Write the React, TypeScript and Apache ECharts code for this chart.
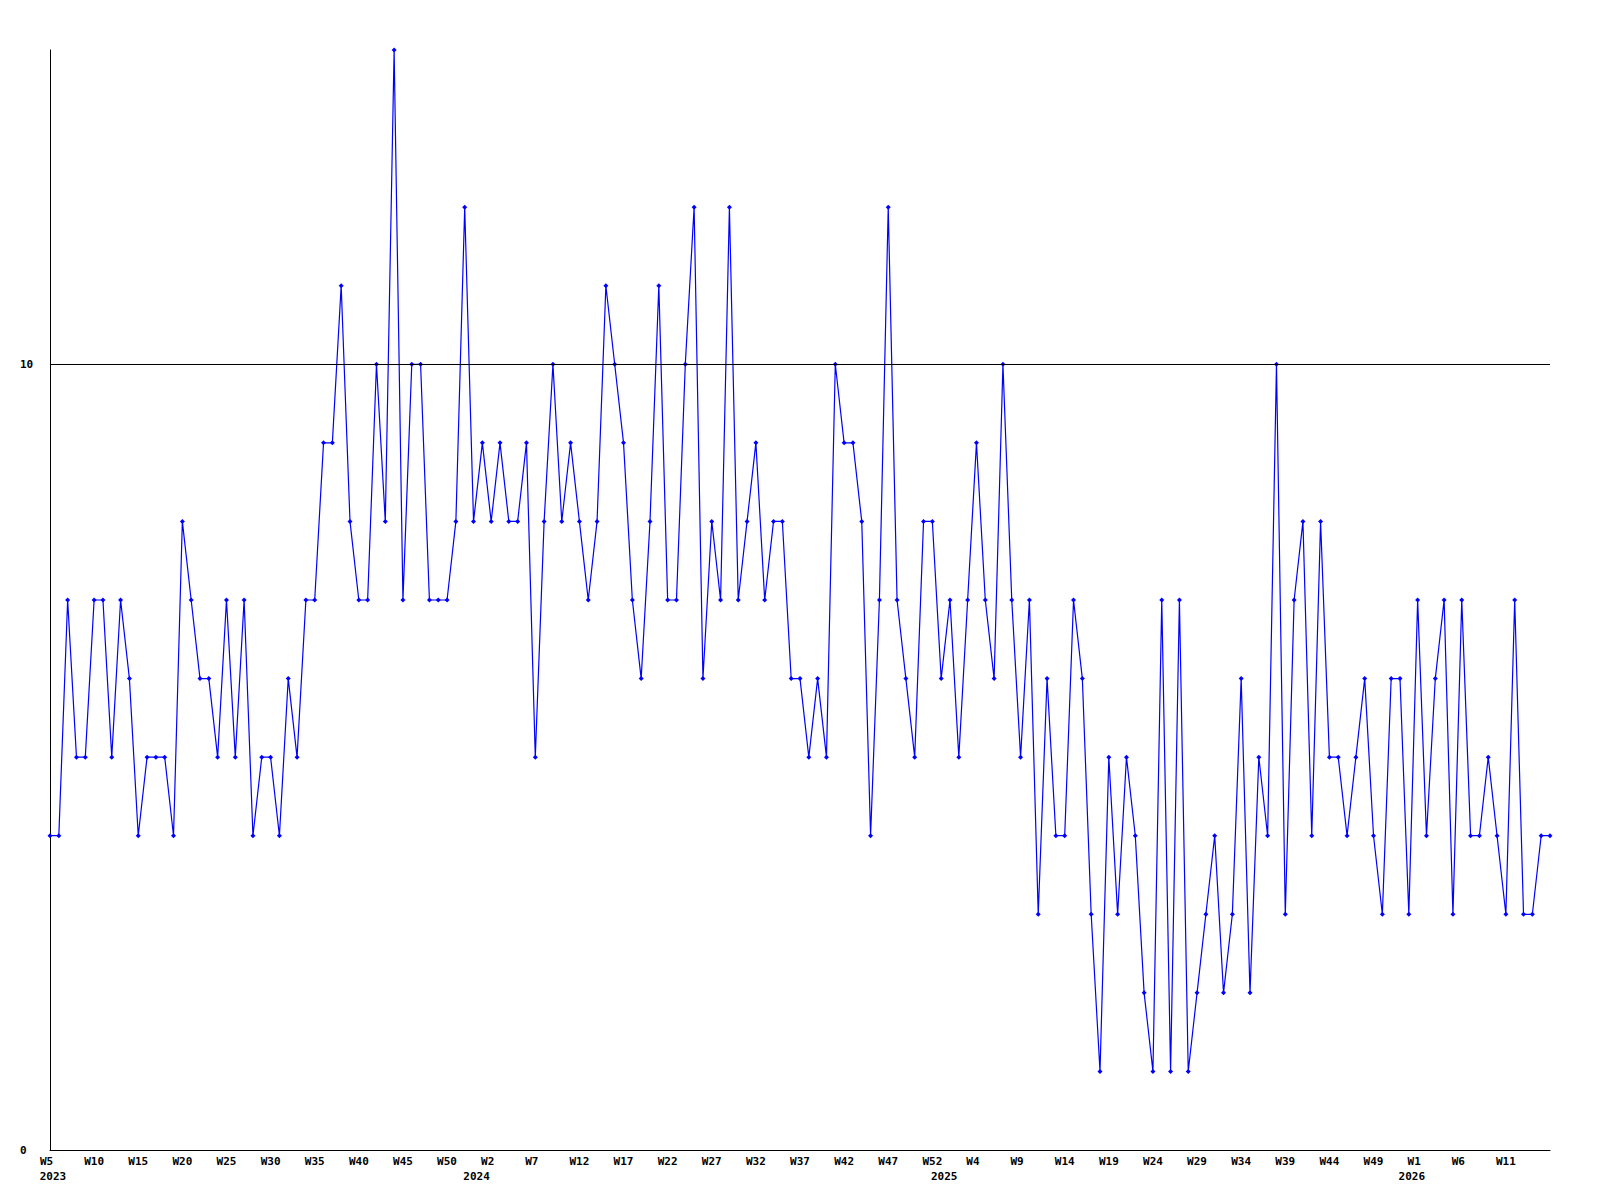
import React, { useEffect, useRef } from "react";
import * as echarts from "echarts";

// [year, first week, last week] covered by the series
const yearRanges: [number, number, number][] = [
  [2023, 5, 53],
  [2024, 1, 53],
  [2025, 1, 53],
  [2026, 1, 16],
];

const values2023 = [
  4, 4, 7, 5, 5, 7, 7, 5, 7, 6, 4, 5, 5, 5, 4, 8, 7, 6, 6, 5, 7, 5, 7, 4, 5, 5, 4, 6, 5,
  7, 7, 9, 9, 11, 8, 7, 7, 10, 8, 14, 7, 10, 10, 7, 7, 7, 8, 12, 8,
];
const values2024 = [
  9, 8, 9, 8, 8, 9, 5, 8,
  10, 8, 9, 8, 7, 8, 11, 10, 9, 7, 6, 8, 11, 7, 7, 10, 12, 6, 8, 7, 12, 7, 8, 9, 7, 8, 8, 6, 6,
  5, 6, 5, 10, 9, 9, 8, 4, 7, 12, 7, 6, 5, 8, 8, 6,
];
const values2025 = [
  7, 5, 7, 9, 7, 6, 10, 7, 5, 7, 3, 6,
  4, 4, 7, 6, 3, 1, 5, 3, 5, 4, 2, 1, 7, 1, 7, 1, 2, 3, 4, 2, 3, 6, 2, 5, 4, 10, 3, 7,
  8, 4, 8, 5, 5, 4, 5, 6, 4, 3, 6, 6, 3,
];
const values2026 = [7, 4, 6, 7, 3, 7, 4, 4, 5, 4, 3, 7, 3, 3, 4, 4];

const yTickLabels = [0, 10];
const referenceLevel = 10;
const yMax = 14;
const weekLabelStep = 5;

const categories: string[] = [];
const yearOf: number[] = [];
for (const [y, a, b] of yearRanges) {
  for (let w = a; w <= b; w++) {
    categories.push(`W${w}`);
    yearOf.push(y);
  }
}
const values = [...values2023, ...values2024, ...values2025, ...values2026];

const yearLabelAt = new Map<number, string>();
yearRanges.forEach(([y], i) => {
  const first = yearOf.indexOf(y);
  yearLabelAt.set(i === 0 ? first : first - 1, String(y));
});

const FONT = "DejaVu Sans Mono";

export default function App() {
  const ref = useRef<HTMLDivElement>(null);
  useEffect(() => {
    if (!ref.current) return;
    const chart = echarts.init(ref.current, undefined, { renderer: "svg" });
    const labelStyle = {
      fontFamily: FONT,
      fontWeight: "bold" as const,
      fontSize: 11,
      color: "#000",
    };
    chart.setOption({
      animation: false,
      backgroundColor: "#fff",
      grid: { left: 50, right: 50, top: 50, bottom: 50, containLabel: false },
      xAxis: [
        {
          type: "category",
          data: categories,
          boundaryGap: false,
          axisLine: { show: true, lineStyle: { color: "#000", width: 1 } },
          axisTick: { show: false },
          splitLine: { show: false },
          axisLabel: {
            ...labelStyle,
            margin: 6,
            interval: (i: number) => i % weekLabelStep === 0 && i < categories.length - 1,
            formatter: (v: string) => (v.length < 3 ? `{s|${v}}` : v),
            rich: { s: { ...labelStyle, padding: [0, 7, 0, 0] } },
          },
        },
        {
          type: "category",
          data: categories,
          boundaryGap: false,
          position: "bottom",
          offset: 15,
          axisLine: { show: false },
          axisTick: { show: false },
          splitLine: { show: false },
          axisLabel: {
            ...labelStyle,
            margin: 6,
            padding: [0, 0, 0, 6],
            interval: (i: number) => yearLabelAt.has(i),
            formatter: (_v: string, i: number) => yearLabelAt.get(i) ?? "",
          },
        },
      ],
      yAxis: {
        type: "value",
        min: 0,
        max: yMax,
        interval: 10,
        axisLine: { show: true, lineStyle: { color: "#000", width: 1 } },
        axisTick: { show: false },
        splitLine: { show: false },
        axisLabel: {
          ...labelStyle,
          align: "left",
          margin: 30,
          formatter: (v: number) => (yTickLabels.includes(v) ? String(v) : ""),
        },
      },
      series: [
        {
          type: "line",
          data: values,
          xAxisIndex: 0,
          symbol: "diamond",
          symbolSize: 5,
          showAllSymbol: true,
          lineStyle: { color: "#0000ff", width: 1.2 },
          itemStyle: { color: "#0000ff" },
          markLine: {
            silent: true,
            symbol: ["none", "none"],
            label: { show: false },
            lineStyle: { color: "#000", width: 1, type: "solid" },
            data: [{ yAxis: referenceLevel }],
          },
        },
      ],
    });
    return () => chart.dispose();
  }, []);
  return (
    <div
      ref={ref}
      style={{ position: "absolute", left: 0, top: 0, width: 1600, height: 1200, background: "#fff" }}
    />
  );
}
